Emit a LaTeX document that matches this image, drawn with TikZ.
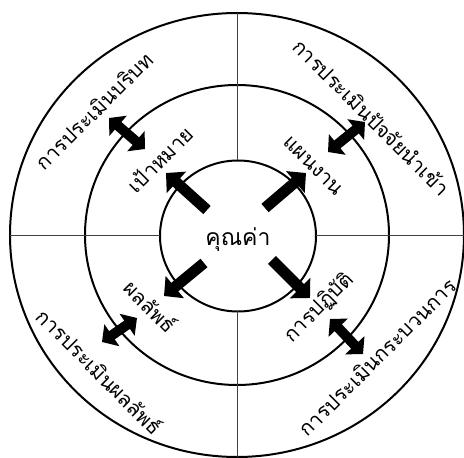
\documentclass[tikz,border=0pt]{standalone}
\usepackage{fontspec}
\newfontfamily\thaifont[Script=Thai]{Loma}
\usetikzlibrary{arrows.meta,shapes.geometric}
\definecolor{ringLine}{HTML}{000000}
\definecolor{quadLine}{HTML}{404040}

\begin{document}
\begin{tikzpicture}[
  x=1pt,y=1pt,
  font=\thaifont,
  ring/.style={draw=ringLine,line width=2pt,ellipse,inner sep=0pt,outer sep=0pt},
  quad/.style={draw=quadLine,line width=1pt},
  arr/.style={-{Triangle[length=14pt,width=28pt]},line width=11pt},
  dblarr/.style={{Triangle[length=12pt,width=26pt]}-{Triangle[length=12pt,width=26pt]},line width=10pt},
  lbl/.style={font=\thaifont\fontsize{20.5}{22}\selectfont,inner sep=0pt},
  core/.style={font=\thaifont\fontsize{23}{25}\selectfont,inner sep=0pt}
]
\useasboundingbox (-237,-223) rectangle (227,235);
% ---- Rings ----
\node[ring,minimum width=454pt,minimum height=444pt] (outer)  at (0,0)  {};
\node[ring,minimum width=304pt,minimum height=300pt] (middle) at (0,0)  {};
\node[ring,minimum width=156pt,minimum height=151pt] (inner)  at (1,-1) {};

% ---- Quadrant lines ----
\draw[quad] (outer.north -| inner.north) -- (inner.north);
\draw[quad] (outer.south -| inner.south) -- (inner.south);
\draw[quad] (outer.west |- inner.west)   -- (inner.west);
\draw[quad] (outer.east |- inner.east)   -- (inner.east);

% ---- Centre ----
\node[core] (value) at (1,-5) {คุณค่า};

% ---- Arrows out of the centre ----
\coordinate (ulTail) at (-30,25);  \coordinate (ulTip) at (-71,62);
\coordinate (urTail) at (28,27);   \coordinate (urTip) at (69,62);
\coordinate (llTail) at (-33,-28); \coordinate (llTip) at (-73,-61);
\coordinate (lrTail) at (35,-25);  \coordinate (lrTip) at (73,-63);
\draw[arr] (ulTail) -- (ulTip);
\draw[arr] (urTail) -- (urTip);
\draw[arr] (llTail) -- (llTip);
\draw[arr] (lrTail) -- (lrTip);

% ---- Arrows across the middle ring ----
\coordinate (ulIn) at (-92,86);   \coordinate (ulOut) at (-128,117);
\coordinate (urIn) at (91,83);    \coordinate (urOut) at (128,113);
\coordinate (llIn) at (-100,-83); \coordinate (llOut) at (-135,-107);
\coordinate (lrIn) at (93,-84);   \coordinate (lrOut) at (126,-119);
\draw[dblarr] (ulIn) -- (ulOut);
\draw[dblarr] (urIn) -- (urOut);
\draw[dblarr] (llIn) -- (llOut);
\draw[dblarr] (lrIn) -- (lrOut);

% ---- Inner ring labels ----
\node[lbl,rotate=45]  (goal)    at (-77,76)  {เป้าหมาย};
\node[lbl,rotate=-45] (plan)    at (76,69)   {แผนงาน};
\node[lbl,rotate=-45] (result)  at (-86,-71) {ผลลัพธ์};
\node[lbl,rotate=45]  (action)  at (82,-73)  {การปฏิบัติ};

% ---- Outer ring labels ----
\node[lbl,rotate=45]  (evCtx)   at (-143,124)  {การประเมินบริบท};
\node[lbl,rotate=-45] (evInput) at (135,118)   {การประเมินปัจจัยนำเข้า};
\node[lbl,rotate=-45] (evProd)  at (-137,-136) {การประเมินผลลัพธ์};
\node[lbl,rotate=45]  (evProc)  at (140,-122)  {การประเมินกระบวนการ};
\end{tikzpicture}
\end{document}
